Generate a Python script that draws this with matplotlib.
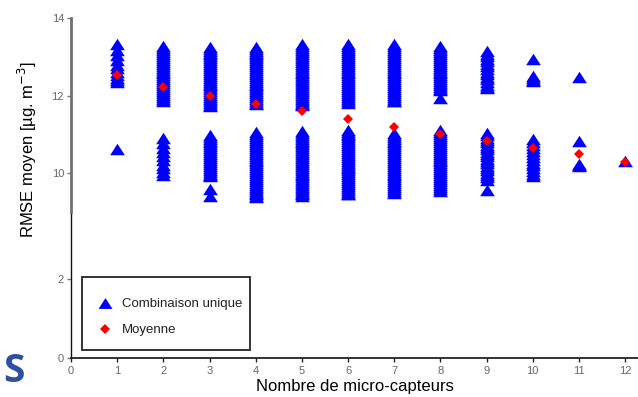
import numpy as np
import matplotlib
matplotlib.use('Agg')
import matplotlib.pyplot as plt
from matplotlib.lines import Line2D
from matplotlib.patches import Rectangle

plt.rcParams['font.family'] = ['Liberation Sans', 'DejaVu Sans']

# RMSE of each unique combination, per number of micro-sensors
rmse_n1 = [13.32, 13.18, 13.05, 12.92, 12.8, 12.7, 12.6, 12.52, 12.45, 12.4, 12.36,
           10.62]
rmse_n2 = [13.27, 13.22, 13.17, 13.12, 13.07, 13.02, 12.97, 12.92, 12.87, 12.82, 12.77,
           12.72, 12.67, 12.62, 12.57, 12.52, 12.47, 12.42, 12.37, 12.32, 12.27, 12.22,
           12.17, 12.12, 12.07, 12.02, 11.97, 11.92, 11.87,
           10.9, 10.78, 10.66, 10.55, 10.44, 10.33, 10.22, 10.12, 10.02, 9.94]
rmse_n3 = [13.26, 13.21, 13.16, 13.11, 13.06, 13.01, 12.96, 12.91, 12.86, 12.81, 12.76,
           12.71, 12.66, 12.61, 12.56, 12.51, 12.46, 12.41, 12.36, 12.31, 12.26, 12.21,
           12.16, 12.11, 12.06, 12.01, 11.96, 11.91, 11.86, 11.81, 11.76, 11.72,
           10.99, 10.94, 10.89, 10.84, 10.79, 10.74, 10.69, 10.64, 10.59, 10.54, 10.49,
           10.44, 10.39, 10.34, 10.29, 10.24, 10.19, 10.14, 10.09, 10.04, 9.99, 9.94,
           9.92, 9.6, 9.4]
rmse_n4 = [13.26, 13.21, 13.16, 13.11, 13.06, 13.01, 12.96, 12.91, 12.86, 12.81, 12.76,
           12.71, 12.66, 12.61, 12.56, 12.51, 12.46, 12.41, 12.36, 12.31, 12.26, 12.21,
           12.16, 12.11, 12.06, 12.01, 11.96, 11.91, 11.86, 11.82, 11.78,
           11.05, 11.0, 10.95, 10.9, 10.85, 10.8, 10.75, 10.7, 10.65, 10.6, 10.55, 10.5,
           10.45, 10.4, 10.35, 10.3, 10.25, 10.2, 10.15, 10.1, 10.05, 10.0, 9.95, 9.9,
           9.85, 9.8, 9.75, 9.7, 9.65, 9.6, 9.55, 9.5, 9.45, 9.41, 9.38]
rmse_n5 = [13.32, 13.27, 13.22, 13.17, 13.12, 13.07, 13.02, 12.97, 12.92, 12.87, 12.82,
           12.77, 12.72, 12.67, 12.62, 12.57, 12.52, 12.47, 12.42, 12.37, 12.32, 12.27,
           12.22, 12.17, 12.12, 12.07, 12.02, 11.97, 11.92, 11.87, 11.82, 11.78, 11.76,
           11.09, 11.04, 10.99, 10.94, 10.89, 10.84, 10.79, 10.74, 10.69, 10.64, 10.59,
           10.54, 10.49, 10.44, 10.39, 10.34, 10.29, 10.24, 10.19, 10.14, 10.09, 10.04,
           9.99, 9.94, 9.89, 9.84, 9.79, 9.74, 9.69, 9.64, 9.59, 9.54, 9.49, 9.45, 9.41]
rmse_n6 = [13.32, 13.27, 13.22, 13.17, 13.12, 13.07, 13.02, 12.97, 12.92, 12.87, 12.82,
           12.77, 12.72, 12.67, 12.62, 12.57, 12.52, 12.47, 12.42, 12.37, 12.32, 12.27,
           12.22, 12.17, 12.12, 12.07, 12.02, 11.97, 11.92, 11.87, 11.82,
           11.12, 11.07, 11.02, 10.97, 10.92, 10.87, 10.82, 10.77, 10.72, 10.67, 10.62,
           10.57, 10.52, 10.47, 10.42, 10.37, 10.32, 10.27, 10.22, 10.17, 10.12, 10.07,
           10.02, 9.97, 9.92, 9.87, 9.82, 9.77, 9.72, 9.67, 9.62, 9.57, 9.52, 9.47, 9.45]
rmse_n7 = [13.32, 13.27, 13.22, 13.17, 13.12, 13.07, 13.02, 12.97, 12.92, 12.87, 12.82,
           12.77, 12.72, 12.67, 12.62, 12.57, 12.52, 12.47, 12.42, 12.37, 12.32, 12.27,
           12.22, 12.17, 12.12, 12.07, 12.02, 11.97, 11.92, 11.87, 11.85,
           11.04, 10.99, 10.94, 10.89, 10.84, 10.79, 10.74, 10.69, 10.64, 10.59, 10.54,
           10.49, 10.44, 10.39, 10.34, 10.29, 10.24, 10.19, 10.14, 10.09, 10.04, 9.99,
           9.94, 9.89, 9.84, 9.79, 9.74, 9.69, 9.64, 9.59, 9.54, 9.5]
rmse_n8 = [13.27, 13.22, 13.17, 13.12, 13.07, 13.02, 12.97, 12.92, 12.87, 12.82, 12.77,
           12.72, 12.67, 12.62, 12.57, 12.52, 12.47, 12.42, 12.37, 12.32, 12.27, 12.22,
           12.17, 12.14, 11.94,
           11.1, 11.05, 11.0, 10.95, 10.9, 10.85, 10.8, 10.75, 10.7, 10.65, 10.6, 10.55,
           10.5, 10.45, 10.4, 10.35, 10.3, 10.25, 10.2, 10.15, 10.1, 10.05, 10.0, 9.95,
           9.9, 9.85, 9.8, 9.75, 9.7, 9.65, 9.6, 9.54]
rmse_n9 = [13.15, 13.08, 13.02, 12.95, 12.88, 12.82, 12.75, 12.68, 12.62, 12.55, 12.48,
           12.42, 12.35, 12.28, 12.22, 12.2,
           11.03, 10.97, 10.91, 10.85, 10.79, 10.73, 10.67, 10.61, 10.55, 10.49, 10.43,
           10.37, 10.31, 10.25, 10.19, 10.13, 10.07, 10.01, 9.95, 9.89, 9.83, 9.56]
rmse_n10 = [12.95, 12.5, 12.45, 12.4, 12.37,
            10.87, 10.8, 10.72, 10.65, 10.57, 10.5, 10.42, 10.35, 10.27, 10.2, 10.12,
            10.05, 9.97, 9.92]
rmse_n11 = [12.49, 10.82, 10.24, 10.21, 10.18]
rmse_n12 = [10.31]

nb_capteurs = [1, 2, 3, 4, 5, 6, 7, 8, 9, 10, 11, 12]
rmse_moyen = [12.53, 12.21, 11.98, 11.79, 11.59, 11.40, 11.19, 11.0, 10.82, 10.64,
              10.48, 10.29]

combinaisons = [rmse_n1, rmse_n2, rmse_n3, rmse_n4, rmse_n5, rmse_n6, rmse_n7,
                rmse_n8, rmse_n9, rmse_n10, rmse_n11, rmse_n12]

y_ticks = [0, 2, 10, 12, 14]

# broken y axis: 0-2 at full scale, 2-9 squeezed, 9-14 at full scale
brk_data = [0, 2, 9, 14]
brk_disp = [0, 2, 3.70, 8.61]


def fwd(y):
    return np.interp(y, brk_data, brk_disp)


def inv(y):
    return np.interp(y, brk_disp, brk_data)


tri = [(0, 0.78), (-1, -0.78), (1, -0.78)]
blue = '#0000ff'
red = '#ff0000'

fig = plt.figure(figsize=(6.38, 3.97), dpi=100)
ax = fig.add_axes([71 / 638, 39 / 397, 567 / 638, 340 / 397])
ax.set_yscale('function', functions=(fwd, inv))

for n, vals in zip(nb_capteurs, combinaisons):
    ax.plot([n] * len(vals), vals, linestyle='none', marker=tri, markersize=10.6,
            color=blue, markeredgewidth=0, zorder=2)

ax.plot(nb_capteurs, rmse_moyen, linestyle='none', marker='D', markersize=5,
        color=red, markeredgewidth=0, zorder=3)

ax.set_xlim(0, 12.28)
ax.set_ylim(0, 14)
ax.set_xticks(range(0, 13))
ax.set_yticks(y_ticks)
ax.tick_params(axis='both', labelsize=8, labelcolor='#666666', length=3,
               width=1, direction='out')
ax.tick_params(axis='y', color='#777777', pad=2)
ax.tick_params(axis='x', color='#222222', pad=3)

for s in ['top', 'right']:
    ax.spines[s].set_visible(False)
ax.spines['bottom'].set_color('#222222')
ax.spines['bottom'].set_linewidth(1.3)
ax.spines['left'].set_color('#111111')
ax.spines['left'].set_linewidth(1.0)
ax.spines['left'].set_bounds(0, 9)
ax.plot([0, 0], [9, 14], color='#707070', lw=2.0, clip_on=False, zorder=5)

ax.set_xlabel('Nombre de micro-capteurs', fontsize=12, labelpad=2)
fig.text(27 / 638, 1 - 150 / 397, 'RMSE moyen [µg. m$^{-3}$]', rotation=90,
         ha='center', va='center', fontsize=12)

handles = [
    Line2D([], [], linestyle='none', marker=tri, markersize=10, color=blue,
           markeredgewidth=0),
    Line2D([], [], linestyle='none', marker='D', markersize=5, color=red,
           markeredgewidth=0),
]
leg = ax.legend(handles, ['Combinaison unique', 'Moyenne'], loc='upper left',
                bbox_to_anchor=(97 / 638, 1 - 298 / 397),
                bbox_transform=fig.transFigure, fontsize=9.5, frameon=False,
                borderpad=0, labelspacing=1.05, handletextpad=0.7,
                handlelength=1.2, borderaxespad=0)
for t in leg.get_texts():
    t.set_color('#222222')

# legend frame
ax.add_patch(Rectangle((82 / 638, 1 - 350 / 397), 168 / 638, 73 / 397,
                       transform=fig.transFigure, fill=False, ec='#222222',
                       lw=1.3, clip_on=False, zorder=6))

fig.text(14 / 638, 1 - 372 / 397, 'S', fontsize=28, fontweight='bold',
         family='Open Sans', color='#2f4f9f', ha='center', va='center')

fig.savefig('out.png', dpi=100)
